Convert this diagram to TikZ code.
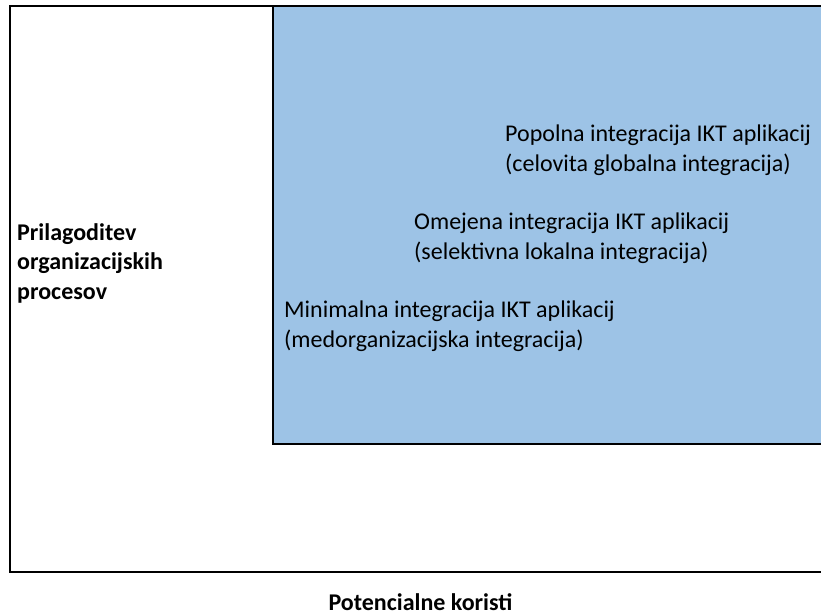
\documentclass[tikz,border=0pt]{standalone}
\usepackage{fontspec}
\setmainfont{Carlito}
\definecolor{fieldblue}{RGB}{157,195,230}
\begin{document}
\begin{tikzpicture}[x=1pt,y=-1pt,
  frame/.style={line width=2pt,draw=black},
  label/.style={inner sep=0pt,anchor=base west,font=\fontsize{24}{29}\selectfont},
  boldlabel/.style={label,font=\fontsize{24}{29}\selectfont\bfseries}]
\useasboundingbox (0,0) rectangle (821,613);
\clip (0,0) rectangle (821,613);
% outer field and the shaded integration area
\draw[frame,fill=white] (9.5,6) rectangle (840,571.5);
\draw[frame,fill=fieldblue] (273,6) rectangle (840,444);
% vertical axis label
\node[boldlabel] (ax1) at (17,240) {Prilagoditev};
\node[boldlabel] (ax2) at (17,269.5) {organizacijskih};
\node[boldlabel] (ax3) at (17,299) {procesov};
% integration levels
\node[label] (p1) at (505,141.5) {Popolna integracija IKT aplikacij};
\node[label] (p2) at (505,171) {(celovita globalna integracija)};
\node[label] (o1) at (414,229.5) {Omejena integracija IKT aplikacij};
\node[label] (o2) at (414,259) {(selektivna lokalna integracija)};
\node[label] (m1) at (284,317.5) {Minimalna integracija IKT aplikacij};
\node[label] (m2) at (284,347) {(medorganizacijska integracija)};
% horizontal axis label
\node[boldlabel,anchor=base] (hx) at (420.5,610.5) {Potencialne koristi};
\end{tikzpicture}
\end{document}
